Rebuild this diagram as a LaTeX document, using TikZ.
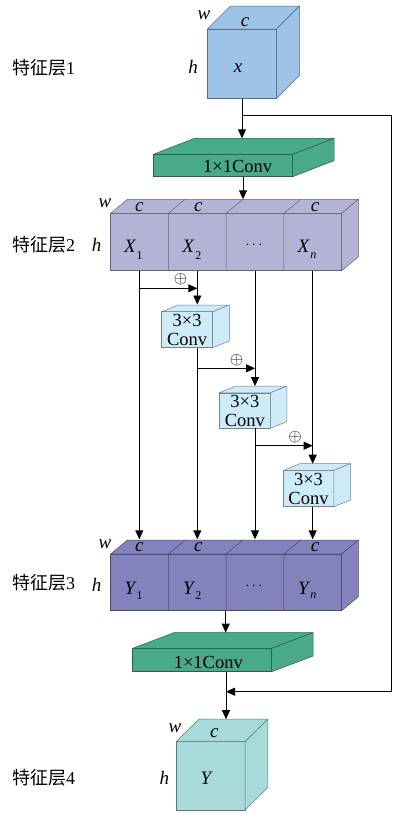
\documentclass[tikz,border=0pt]{standalone}
\usepackage{fontspec}
\setmainfont{Liberation Serif}
\newfontfamily\cjk{Noto Sans CJK SC}
\usetikzlibrary{arrows.meta}
\definecolor{cubeA}{HTML}{9DC3E6}
\definecolor{convbig}{HTML}{49A98B}
\definecolor{layerA}{HTML}{B3B3D6}
\definecolor{layerB}{HTML}{8482BC}
\definecolor{convsmall}{HTML}{CDEBF9}
\definecolor{cubeB}{HTML}{A8DADC}
\tikzset{
  face/.style={draw=#1!55!black, fill=#1, line width=0.5pt, inner sep=0pt, outer sep=0pt, anchor=north west},
  edgeln/.style={draw=#1!55!black, fill=#1, line width=0.5pt, line join=round},
  arr/.style={line width=0.9pt, -{Triangle[length=9pt,width=8pt]}},
  ln/.style={line width=0.9pt},
  lab/.style={font=\fontsize{19}{19}\selectfont\itshape, inner sep=0pt},
  cn/.style={font=\fontsize{18.5}{18.5}\selectfont, inner sep=0pt},
  ctext/.style={font=\fontsize{18.5}{19.5}\selectfont, inner sep=0pt, align=center},
  layername/.style={font=\fontsize{18}{18}\selectfont, inner sep=0pt, anchor=west},
  subs/.style={font=\fontsize{12}{12}\selectfont, inner sep=0pt},
  dots/.style={font=\fontsize{14}{14}\selectfont, inner sep=0pt},
  plus/.style={font=\fontsize{16}{16}\selectfont, inner sep=0pt}
}
% name, x, y, width, height, dx, dy(up), colour
\newcommand\mycuboid[8]{%
  \node[face=#8, minimum width=#4pt, minimum height=#5pt] (#1) at (#2,#3) {};
  \path[edgeln=#8] (#1.north west) -- ++(#6,-#7) -- ([shift={(#6,-#7)}]#1.north east) -- (#1.north east) -- cycle;
  \path[edgeln=#8] (#1.north east) -- ++(#6,-#7) -- ([shift={(#6,-#7)}]#1.south east) -- (#1.south east) -- cycle;
}
\begin{document}
\begin{tikzpicture}[x=1pt,y=-1pt]
\useasboundingbox (0,0) rectangle (395,814);

% ---------- cuboids ----------
\mycuboid{cubeone}{207.5}{29}{69}{69.5}{23}{23}{cubeA}
\mycuboid{convone}{153.3}{154.3}{139.4}{22.4}{41.3}{16}{convbig}
\mycuboid{layertwo}{110.7}{213.3}{231}{57.4}{16.7}{14}{layerA}
\mycuboid{sconvone}{161.7}{311.7}{51}{36}{16.6}{6.7}{convsmall}
\mycuboid{sconvtwo}{219.3}{392.8}{51}{35.5}{16.6}{6.7}{convsmall}
\mycuboid{sconvthree}{283.3}{470.4}{50.5}{36.3}{16.6}{6.7}{convsmall}
\mycuboid{layerthree}{110.7}{554}{231}{56.7}{16.7}{14}{layerB}
\mycuboid{convtwo}{132.7}{648.3}{139}{23.4}{41.5}{15.7}{convbig}
\mycuboid{cubefour}{176}{741.7}{69}{68.3}{22.8}{22.5}{cubeB}

% layer dividers
\foreach \xx in {168.45,226.2,283.95}{
  \path[edgeln=layerA, fill=none] (\xx,213.3) -- (\xx,270.7) (\xx,213.3) -- ++(16.7,-14);
  \path[edgeln=layerB, fill=none] (\xx,554) -- (\xx,610.7) (\xx,554) -- ++(16.7,-14);
}

% ---------- texts ----------
\node[layername] (n1) at (12,68) {{\cjk 特征层}1};
\node[layername] (n2) at (12,245) {{\cjk 特征层}2};
\node[layername] (n3) at (12,583) {{\cjk 特征层}3};
\node[layername] (n4) at (12,778) {{\cjk 特征层}4};

\node[lab] (w1) at (204,15) {w};
\node[lab] (cc1) at (245,22) {c};
\node[lab] (h1) at (193,67) {h};
\node[lab] (x1) at (238,68) {x};

\node[cn] (t1) at (237.7,166.3) {1×1Conv};
\node[cn] (t2) at (208.3,662.5) {1×1Conv};

\node[lab] (w2) at (105,203) {w};
\node[lab] (h2) at (96.7,245) {h};
\node[lab] (ca) at (139.3,206.7) {c};
\node[lab] (cb) at (198.3,206.7) {c};
\node[lab] (cd) at (315,206.7) {c};
\node[lab] (xa) at (130,246.7) {X};
\node[subs] (xas) at (139.5,256) {1};
\node[lab] (xb) at (188.3,246.7) {X};
\node[subs] (xbs) at (198.3,256) {2};
\node[dots] (xdots) at (254,245) {$\cdots$};
\node[lab] (xn) at (303.3,246.7) {X};
\node[subs, font=\fontsize{12}{12}\selectfont\itshape] (xns) at (313.3,256) {n};

\node[lab] (w3) at (105,544) {w};
\node[lab] (h3) at (96.7,585) {h};
\node[lab] (ya) at (139.3,547) {c};
\node[lab] (yb) at (198.3,547) {c};
\node[lab] (yd) at (315,547) {c};
\node[lab] (ylab1) at (130,588) {Y};
\node[subs] (y1s) at (139.5,596) {1};
\node[lab] (ylab2) at (188.3,588) {Y};
\node[subs] (y2s) at (198.3,596) {2};
\node[dots] (ydots) at (254,586) {$\cdots$};
\node[lab] (ylabn) at (303.3,588) {Y};
\node[subs, font=\fontsize{12}{12}\selectfont\itshape] (yns) at (313.3,596) {n};

\node[ctext] (s1) at (187.2,330) {3×3\\Conv};
\node[ctext] (s2) at (244.8,411) {3×3\\Conv};
\node[ctext] (s3) at (308.5,489) {3×3\\Conv};

\node[lab] (w4) at (175,728.3) {w};
\node[lab] (c4) at (214.3,733.3) {c};
\node[lab] (h4) at (164.3,778.3) {h};
\node[lab] (y4) at (206,778) {Y};

\node[plus] (p1) at (180.7,279.3) {$\oplus$};
\node[plus] (p2) at (236.7,360) {$\oplus$};
\node[plus] (p3) at (295,437.3) {$\oplus$};

% ---------- connector coordinates ----------
\coordinate (k1) at (242,138.3);
\coordinate (br) at (242,115);
\coordinate (rtop) at (391.7,115);
\coordinate (rbot) at (391.7,691.7);
\coordinate (rend) at (226,691.7);
\coordinate (k1b) at (243,176.7);
\coordinate (l2t) at (243,199.3);
\coordinate (l2a) at (139.3,270.7);
\coordinate (l2b) at (197.3,270.7);
\coordinate (l2c) at (255,270.7);
\coordinate (l2d) at (312.7,270.7);
\coordinate (l3a) at (139.3,539.3);
\coordinate (l3b) at (197.3,539.3);
\coordinate (l3c) at (255,539.3);
\coordinate (l3d) at (312.7,539.3);
\coordinate (s1t) at (197.3,304.5);
\coordinate (s2t) at (255,386.1);
\coordinate (s3t) at (312.7,463.7);
\coordinate (s1b) at (197.3,347.7);
\coordinate (s2b) at (255,428.3);
\coordinate (s3b) at (312.7,506.7);
\coordinate (ba) at (139.3,288.3);
\coordinate (bb) at (197.3,368.3);
\coordinate (bc) at (255,445.7);
\coordinate (l3o) at (225.7,610.7);
\coordinate (k2) at (225.7,632.6);
\coordinate (k2b) at (226,671.7);
\coordinate (c4t) at (226,719.2);

% ---------- connectors ----------
\draw[arr] (cubeone.south) -- (k1);
\draw[ln] (br) -- (rtop) -- (rbot);
\draw[arr] (rbot) -- (rend);
\draw[arr] (k1b) -- (l2t);
\draw[arr] (l2a) -- (l3a);
\draw[arr] (l2b) -- (s1t);
\draw[arr] (l2c) -- (s2t);
\draw[arr] (l2d) -- (s3t);
\draw[arr] (s1b) -- (l3b);
\draw[arr] (s2b) -- (l3c);
\draw[arr] (s3b) -- (l3d);
\draw[arr] (ba) -- (ba -| l2b);
\draw[arr] (bb) -- (bb -| l2c);
\draw[arr] (bc) -- (bc -| l2d);
\draw[arr] (l3o) -- (k2);
\draw[arr] (k2b) -- (c4t);
\end{tikzpicture}
\end{document}
